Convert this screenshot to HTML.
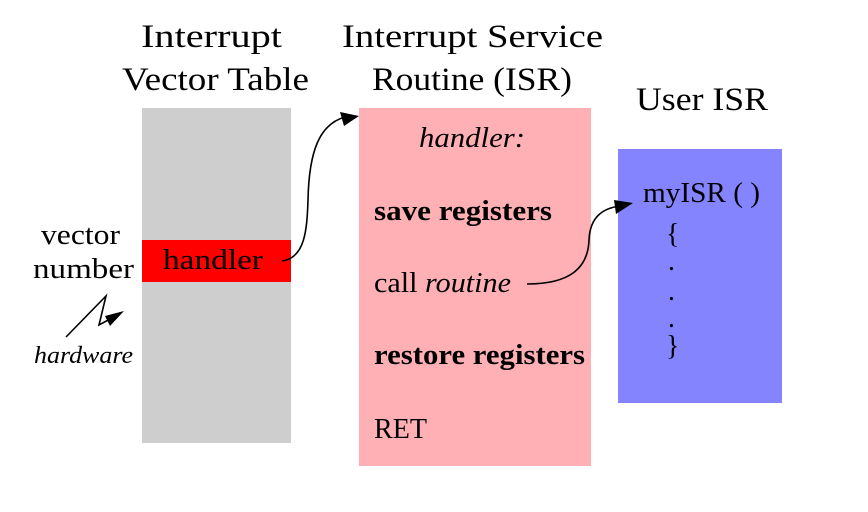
<!DOCTYPE html>
<html><head><meta charset="utf-8"><style>body{margin:0;background:#fff}svg{display:block}</style></head>
<body>
<svg width="868" height="512" viewBox="0 0 868 512" xmlns="http://www.w3.org/2000/svg" font-family="Liberation Serif, serif">
<rect x="142" y="108" width="149" height="335" fill="#cecece"/>
<rect x="142" y="240" width="149" height="42" fill="#ff0000"/>
<rect x="359" y="108" width="232" height="358" fill="#ffb0b4"/>
<rect x="618" y="149" width="164" height="254" fill="#8484ff"/>
<g font-size="33" fill="#000" lengthAdjust="spacingAndGlyphs">
<text x="141" y="47" textLength="141" lengthAdjust="spacingAndGlyphs">Interrupt</text>
<text x="122" y="90" textLength="187" lengthAdjust="spacingAndGlyphs">Vector Table</text>
<text x="342" y="47" textLength="261" lengthAdjust="spacingAndGlyphs">Interrupt Service</text>
<text x="372" y="90" textLength="200" lengthAdjust="spacingAndGlyphs">Routine (ISR)</text>
<text x="636" y="110" textLength="132" lengthAdjust="spacingAndGlyphs">User ISR</text>
</g>
<g font-size="28" fill="#000">
<text x="163" y="269" textLength="100" lengthAdjust="spacingAndGlyphs">handler</text>
<text x="41" y="244" textLength="79" lengthAdjust="spacingAndGlyphs">vector</text>
<text x="33" y="278" textLength="101" lengthAdjust="spacingAndGlyphs">number</text>
<text x="34" y="363" font-style="italic" font-size="24" textLength="99" lengthAdjust="spacingAndGlyphs">hardware</text>
<text x="419" y="147" font-style="italic" textLength="106" lengthAdjust="spacingAndGlyphs">handler:</text>
<text x="374" y="220" font-weight="bold" textLength="178" lengthAdjust="spacingAndGlyphs">save registers</text>
<text x="374" y="292" textLength="137" lengthAdjust="spacingAndGlyphs">call <tspan font-style="italic">routine</tspan></text>
<text x="374" y="364" font-weight="bold" textLength="211" lengthAdjust="spacingAndGlyphs">restore registers</text>
<text x="374" y="438" textLength="53" lengthAdjust="spacingAndGlyphs">RET</text>
<text x="643" y="202" textLength="117" lengthAdjust="spacingAndGlyphs">myISR ( )</text>
<text x="666" y="243">{</text>
<text x="668" y="270">.</text>
<text x="668" y="300">.</text>
<text x="668" y="327">.</text>
<text x="666" y="355">}</text>
</g>
<g fill="none" stroke="#000" stroke-width="1.6">
<path d="M282,261 C305,258 307,230 308,200 C309,150 320,124 345,117"/>
<path d="M527,284 C570,284 588,268 589,240 C590,215 605,208 620,206"/>
<path d="M66,337 L106,296 L99,325 L112,318"/>
</g>
<g fill="#000">
<polygon points="359,116 340,112 344,126"/>
<polygon points="633,203 614,200 616,214"/>
<polygon points="124,311 105,316 110,326"/>
</g>
</svg>
</body></html>
